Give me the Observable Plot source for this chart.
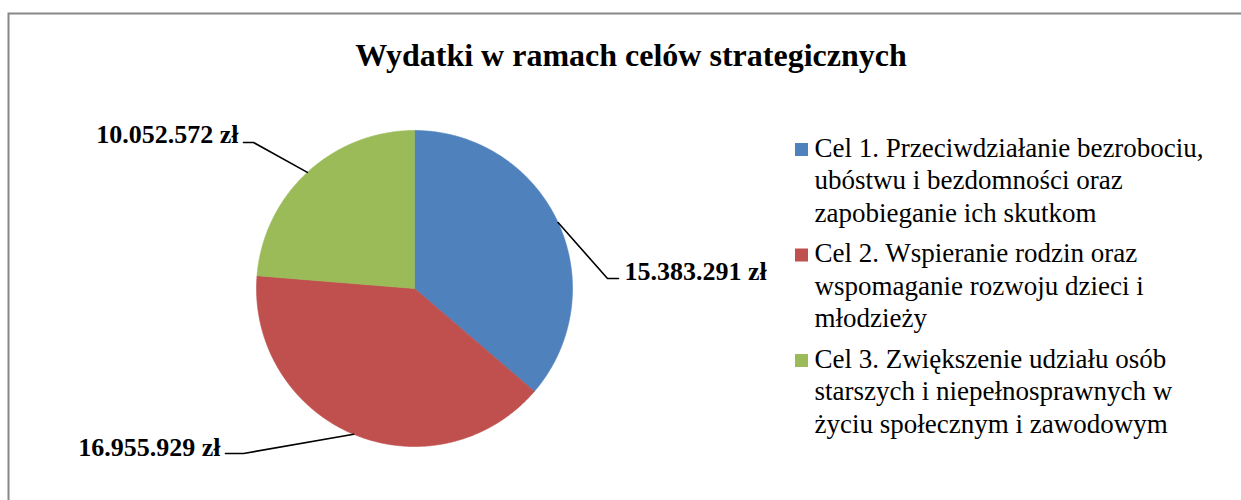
<!DOCTYPE html>
<html>
<head>
<meta charset="utf-8">
<script src="https://cdn.jsdelivr.net/npm/d3@7"></script>
<script src="https://cdn.jsdelivr.net/npm/@observablehq/plot@0.6"></script>
<style>
  html, body { margin: 0; padding: 0; background: #fff; }
  #chart svg { display: block; }
</style>
</head>
<body>
<div id="chart"></div>
<script>
// ---- data ----
const title = "Wydatki w ramach celów strategicznych";
const categories = [
  "Cel 1. Przeciwdziałanie bezrobociu,\nubóstwu i bezdomności oraz\nzapobieganie ich skutkom",
  "Cel 2. Wspieranie rodzin oraz\nwspomaganie rozwoju dzieci i\nmłodzieży",
  "Cel 3. Zwiększenie udziału osób\nstarszych i niepełnosprawnych w\nżyciu społecznym i zawodowym"
];
const values = [15383291, 16955929, 10052572];
const colors = ["#4F81BD", "#C0504D", "#9BBB59"];

// ---- layout ----
const W = 1241, H = 500;
const pie = {cx: 414, cy: 288, r: 158};
const serif = "'Liberation Serif', 'Times New Roman', serif";
// label layout per slice: elbow and end of leader line, text anchor point
const labelLayout = [
  {elbow: [607, 278], end: [618, 278], tx: 624, base: 279, anchor: "start"},
  {elbow: [243, 453], end: [225, 453], tx: 220, base: 455, anchor: "end"},
  {elbow: [253, 142], end: [243, 142], tx: 238, base: 142, anchor: "end"}
];
const legend = {sqX: 795, sq: 13, textX: 814, base0: 157, groupStep: 105.5, lineStep: 32.5, fs: 27, shift: -4.5};
const labelFs = 26, titleFs = 32;

// ---- derived ----
const fmt = v => d3.format(",")(v).replace(/,/g, ".") + " zł";
const data = categories.map((c, i) => ({cat: c, value: values[i], color: colors[i]}));
const arcs = d3.pie().sort(null).value(d => d.value)(data);
const pt = (t, rr) => ({x: pie.cx + rr * Math.sin(t), y: pie.cy - rr * Math.cos(t)});

function slicePoints(a) {
  const pts = [{x: pie.cx, y: pie.cy}];
  const n = Math.max(2, Math.ceil((a.endAngle - a.startAngle) / (Math.PI / 360)));
  for (let k = 0; k <= n; k++) pts.push(pt(a.startAngle + (a.endAngle - a.startAngle) * k / n, pie.r));
  pts.push({x: pie.cx, y: pie.cy});
  return pts;
}

const sliceMarks = arcs.map(a =>
  Plot.line(slicePoints(a), {x: "x", y: "y", fill: a.data.color, stroke: a.data.color, strokeWidth: 0.6})
);

const leaderMarks = arcs.map((a, i) => {
  const L = labelLayout[i];
  const e = pt((a.startAngle + a.endAngle) / 2, pie.r);
  return Plot.line([e, {x: L.elbow[0], y: L.elbow[1]}, {x: L.end[0], y: L.end[1]}],
    {x: "x", y: "y", stroke: "#000", strokeWidth: 1.6});
});

const valueLabels = arcs.map((a, i) => ({
  x: labelLayout[i].tx, y: labelLayout[i].base - 0.32 * labelFs,
  text: fmt(a.data.value), anchor: labelLayout[i].anchor
}));

const legendRows = data.map((d, i) => {
  const base = legend.base0 + i * legend.groupStep;
  return {
    x1: legend.sqX, x2: legend.sqX + legend.sq, y1: base - legend.sq - 1, y2: base - 1,
    tx: legend.textX, ty: base - 0.71 * legend.fs + legend.shift, text: d.cat, color: d.color
  };
});

const chart = Plot.plot({
  width: W, height: H, margin: 0,
  x: {domain: [0, W], range: [0, W], axis: null},
  y: {domain: [0, H], range: [0, H], axis: null},
  style: {background: "#fff"},
  marks: [
    Plot.rect([0], {x1: 8.5, y1: 13.5, x2: W + 50, y2: H + 50, fill: "none", stroke: "#878787", strokeWidth: 2}),
    Plot.text([title], {x: W * 0.508, y: 65 - 0.32 * titleFs, text: d => d, fontFamily: serif, fontWeight: "bold", fontSize: titleFs, fill: "#000"}),
    ...sliceMarks,
    ...leaderMarks,
    Plot.text(valueLabels.filter(d => d.anchor === "start"), {x: "x", y: "y", text: "text", textAnchor: "start", fontFamily: serif, fontWeight: "bold", fontSize: labelFs, fill: "#000"}),
    Plot.text(valueLabels.filter(d => d.anchor === "end"), {x: "x", y: "y", text: "text", textAnchor: "end", fontFamily: serif, fontWeight: "bold", fontSize: labelFs, fill: "#000"}),
    Plot.rect(legendRows, {x1: "x1", x2: "x2", y1: "y1", y2: "y2", fill: d => d.color}),
    Plot.text(legendRows, {x: "tx", y: "ty", text: "text", textAnchor: "start", lineAnchor: "top", lineHeight: legend.lineStep / legend.fs, fontFamily: serif, fontSize: legend.fs, fill: "#000"})
  ]
});
document.getElementById("chart").appendChild(chart);
</script>
</body>
</html>
